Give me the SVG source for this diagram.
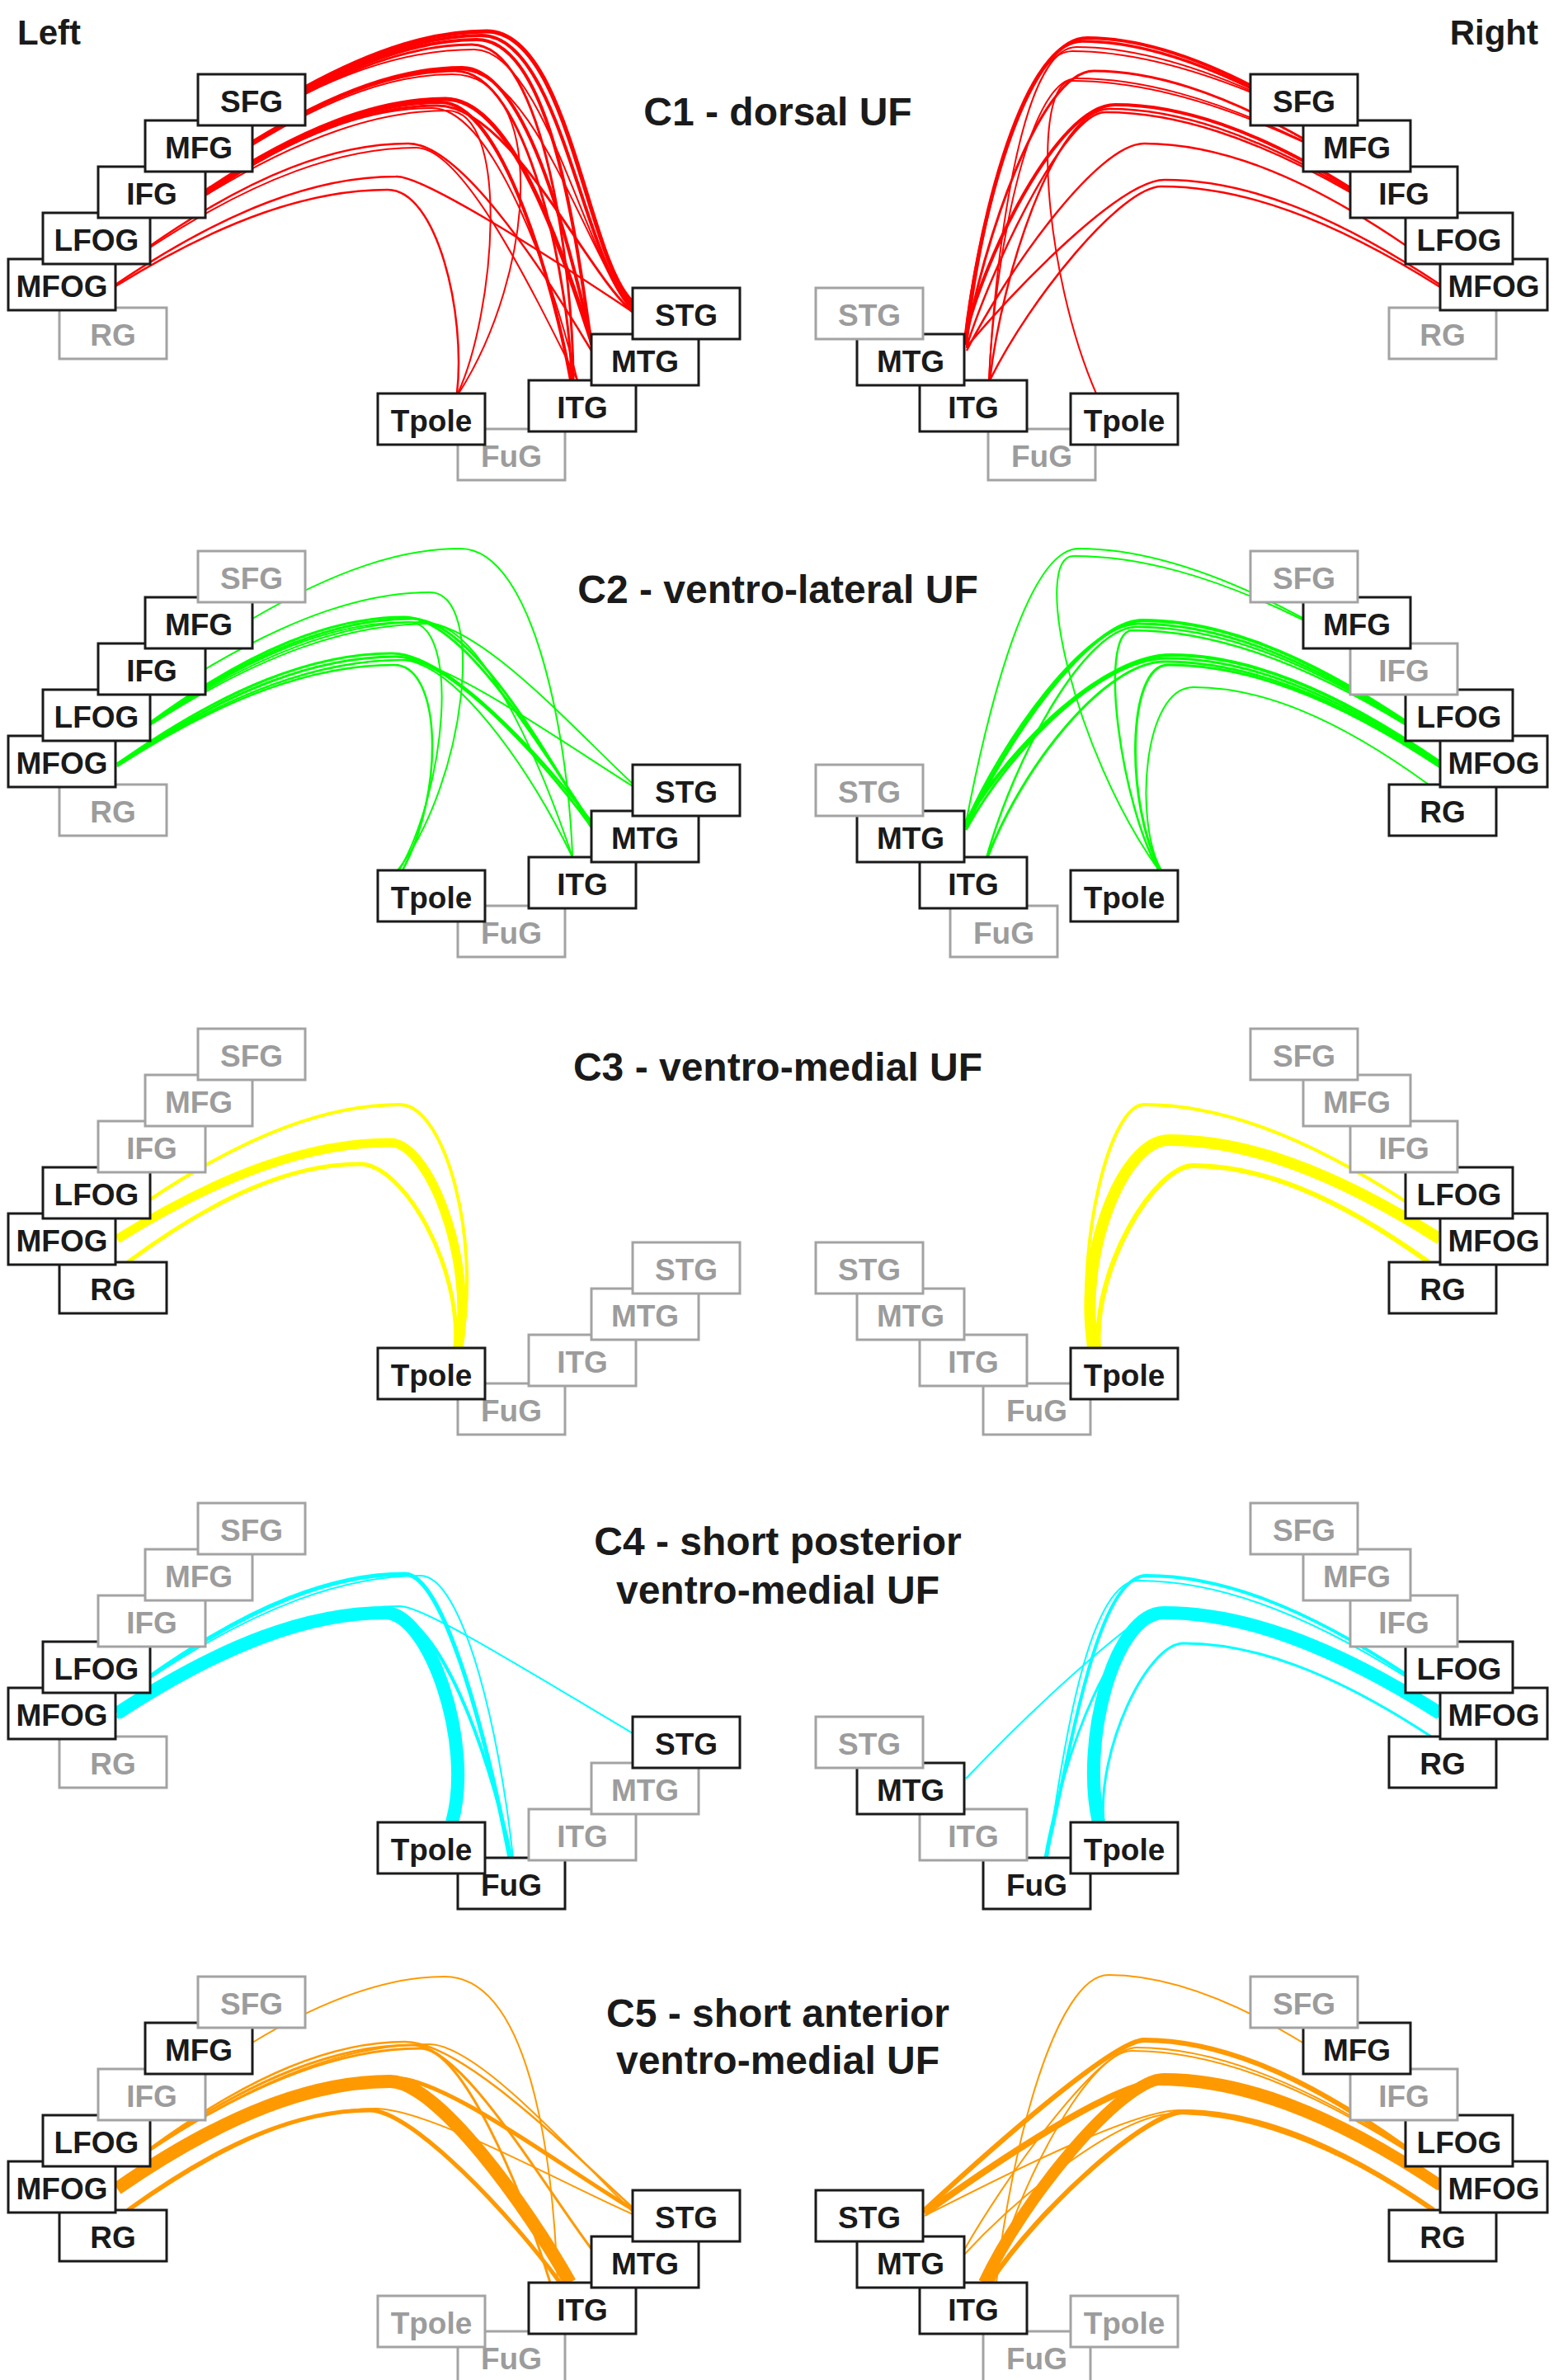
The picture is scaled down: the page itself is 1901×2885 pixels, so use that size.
<svg xmlns="http://www.w3.org/2000/svg" width="1901" height="2885" viewBox="0 0 1901 2885">
<style>
text{font-family:"Liberation Sans",Arial,sans-serif;font-weight:bold;text-anchor:middle}
.n text{font-size:37px}
.on rect{fill:#fff;stroke:#1a1a1a;stroke-width:3}
.on text{fill:#1a1a1a}
.off rect{fill:#fff;stroke:#a3a3a3;stroke-width:3}
.off text{fill:#9c9c9c}
.title{font-size:48px;fill:#1a1a1a}
.side{font-size:42px;fill:#1a1a1a}
#connectors path{fill:none}
.r path{stroke:#ff0000}
.g path{stroke:#00ff00}
.y path{stroke:#ffff00}
.c path{stroke:#00ffff}
.o path{stroke:#ff9900}
</style>
<rect width="1901" height="2885" fill="#fff"/>
<text class="side" x="21" y="54" style="text-anchor:start">Left</text>
<text class="side" x="1865" y="54" style="text-anchor:end">Right</text>
<text class="title" x="943" y="152">C1 - dorsal UF</text>
<text class="title" x="943" y="731">C2 - ventro-lateral UF</text>
<text class="title" x="943" y="1310">C3 - ventro-medial UF</text>
<text class="title" x="943" y="1885">C4 - short posterior</text>
<text class="title" x="943" y="1944">ventro-medial UF</text>
<text class="title" x="943" y="2457">C5 - short anterior</text>
<text class="title" x="943" y="2514">ventro-medial UF</text>

<g id="connectors">
<g class="r" id="conn-c1">
<path stroke-width="5" d="M370,106 C458,58 528,38 590,38 C690,38 712,318 767,366"/>
<path stroke-width="4" d="M370,109 C456,63 524,43 584,43 C680,43 708,325 767,371"/>
<path stroke-width="4" d="M370,111 C453,67 520,48 578,48 C670,48 700,300 717,418"/>
<path stroke-width="3" d="M370,113 C451,72 515,54 572,54 C660,54 695,330 695,461"/>
<path stroke-width="2" d="M370,114 C452,73 518,60 575,60 C660,60 715,330 767,376"/>
<path stroke-width="4" d="M306,172 C408,109 489,82 560,82 C640,82 690,300 717,412"/>
<path stroke-width="3" d="M306,174 C404,112 483,86 552,86 C640,86 690,340 693,461"/>
<path stroke-width="2" d="M306,175 C406,112 486,84 556,84 C650,84 715,320 767,374"/>
<path stroke-width="2" d="M306,176 C403,116 480,90 548,90 C665,90 650,330 556,477"/>
<path stroke-width="5" d="M249,232 C365,154 459,120 540,120 C620,120 680,300 717,414"/>
<path stroke-width="4" d="M249,234 C363,157 454,124 534,124 C610,124 672,350 692,461"/>
<path stroke-width="3" d="M249,236 C361,160 451,128 530,128 C620,128 710,330 767,378"/>
<path stroke-width="2" d="M249,237 C366,165 460,134 542,134 C620,134 600,380 555,477"/>
<path stroke-width="2" d="M249,236 C359,162 447,131 524,131 C590,131 660,300 700,461"/>
<path stroke-width="2.5" d="M182,298 C307,211 407,174 495,174 C560,174 660,330 717,425"/>
<path stroke-width="2" d="M182,300 C311,215 415,179 505,179 C560,179 640,340 700,461"/>
<path stroke-width="2.5" d="M140,345 C276,253 385,214 480,214 C510,212 650,300 767,378"/>
<path stroke-width="2.5" d="M140,347 C272,265 378,230 470,230 C530,230 565,380 554,477"/>
<path stroke-width="4" d="M1517,104 C1437,63 1374,46 1318,46 C1240,46 1185,280 1170,412"/>
<path stroke-width="3.5" d="M1517,107 C1435,67 1369,50 1312,50 C1235,50 1180,300 1170,418"/>
<path stroke-width="2" d="M1517,110 C1432,73 1364,57 1305,57 C1235,57 1205,330 1199,461"/>
<path stroke-width="2" d="M1517,112 C1430,77 1361,62 1300,62 C1230,62 1180,320 1172,422"/>
<path stroke-width="3" d="M1580,168 C1478,111 1397,86 1326,86 C1260,86 1190,300 1171,416"/>
<path stroke-width="2" d="M1580,171 C1470,118 1382,95 1305,95 C1245,95 1205,320 1199,461"/>
<path stroke-width="2" d="M1580,172 C1468,120 1378,98 1300,98 C1250,98 1265,330 1329,477"/>
<path stroke-width="4" d="M1637,228 C1523,157 1432,127 1352,127 C1280,127 1190,320 1170,410"/>
<path stroke-width="2.5" d="M1637,231 C1520,162 1427,132 1345,132 C1280,132 1215,330 1200,461"/>
<path stroke-width="2.5" d="M1637,233 C1518,165 1423,136 1340,136 C1290,136 1200,330 1172,420"/>
<path stroke-width="2.5" d="M1705,298 C1578,211 1476,174 1387,174 C1330,174 1220,330 1172,425"/>
<path stroke-width="2.5" d="M1746,345 C1612,256 1506,218 1412,218 C1360,218 1240,340 1172,420"/>
<path stroke-width="2.5" d="M1746,348 C1611,263 1503,226 1408,226 C1360,226 1250,360 1200,461"/>
</g>
<g class="g" id="conn-c2" transform="translate(0,578)">
<path stroke-width="2" d="M306,172 C407,113 487,87 558,87 C650,87 690,330 694,461"/>
<path stroke-width="2" d="M249,233 C358,168 445,140 521,140 C590,140 565,370 482,477"/>
<path stroke-width="3" d="M182,298 C305,208 404,170 490,170 C560,170 650,320 717,420"/>
<path stroke-width="3" d="M182,299 C309,209 411,172 500,172 C570,172 660,330 717,425"/>
<path stroke-width="2" d="M182,300 C313,213 418,176 510,176 C580,176 690,300 767,372"/>
<path stroke-width="2" d="M182,301 C317,214 425,178 520,178 C580,178 650,330 694,461"/>
<path stroke-width="2" d="M182,300 C307,213 407,176 495,176 C560,176 540,380 484,477"/>
<path stroke-width="3" d="M142,348 C275,254 382,214 475,214 C540,214 650,330 717,418"/>
<path stroke-width="3" d="M142,349 C277,257 385,218 480,218 C545,218 655,340 717,424"/>
<path stroke-width="2" d="M142,350 C279,260 389,222 485,222 C550,222 640,350 694,461"/>
<path stroke-width="2.5" d="M142,351 C276,264 384,228 478,228 C535,228 540,380 488,477"/>
<path stroke-width="2" d="M142,347 C281,260 392,222 490,222 C540,222 680,320 767,375"/>
<path stroke-width="2" d="M1581,172 C1472,113 1384,87 1308,87 C1240,87 1190,320 1170,425"/>
<path stroke-width="2" d="M1581,174 C1469,119 1380,96 1302,96 C1250,96 1300,330 1405,477"/>
<path stroke-width="4" d="M1705,297 C1577,211 1475,174 1385,174 C1320,174 1220,320 1171,425"/>
<path stroke-width="3" d="M1705,299 C1575,214 1471,178 1380,178 C1315,178 1215,320 1171,420"/>
<path stroke-width="2.5" d="M1705,300 C1574,217 1470,182 1378,182 C1315,182 1230,340 1196,462"/>
<path stroke-width="2.5" d="M1705,301 C1572,220 1465,186 1372,186 C1330,190 1360,400 1405,477"/>
<path stroke-width="4" d="M1746,346 C1616,256 1511,216 1420,216 C1340,216 1230,320 1171,418"/>
<path stroke-width="3" d="M1746,348 C1614,259 1508,220 1415,220 C1335,220 1225,330 1171,428"/>
<path stroke-width="3" d="M1746,350 C1612,261 1506,224 1412,224 C1340,224 1240,350 1197,462"/>
<path stroke-width="3" d="M1746,352 C1614,264 1508,228 1416,228 C1365,228 1365,400 1407,477"/>
<path stroke-width="2" d="M1732,373 C1618,290 1527,255 1447,255 C1385,255 1375,420 1408,477"/>
</g>
<g class="y" id="conn-c3" transform="translate(0,1157)">
<path stroke-width="4" d="M182,297 C303,216 400,182 485,182 C540,182 585,350 558,477"/>
<path stroke-width="11" d="M142,345 C274,263 380,228 473,228 C520,228 575,370 556,477"/>
<path stroke-width="5" d="M155,373 C267,290 357,254 436,254 C490,254 560,380 552,477"/>
<path stroke-width="4" d="M1705,300 C1578,217 1476,182 1387,182 C1345,182 1305,350 1320,477"/>
<path stroke-width="14" d="M1746,345 C1614,261 1509,225 1417,225 C1360,225 1305,370 1326,477"/>
<path stroke-width="6" d="M1732,373 C1618,291 1527,256 1447,256 C1400,256 1325,380 1332,477"/>
</g>
<g class="c" id="conn-c4" transform="translate(0,1732)">
<path stroke-width="5" d="M182,300 C306,213 404,176 491,176 C535,176 585,350 618,520"/>
<path stroke-width="2" d="M182,302 C313,215 418,178 510,178 C560,178 605,360 622,520"/>
<path stroke-width="16" d="M142,345 C272,260 376,223 467,223 C520,223 575,380 548,477"/>
<path stroke-width="4" d="M142,350 C275,263 382,226 475,226 C530,226 590,380 620,520"/>
<path stroke-width="2" d="M142,347 C279,255 389,215 485,215 C515,215 650,300 767,369"/>
<path stroke-width="4" d="M1705,298 C1579,214 1478,178 1390,178 C1330,178 1300,380 1268,520"/>
<path stroke-width="2" d="M1705,301 C1575,219 1471,184 1380,184 C1320,184 1290,380 1270,520"/>
<path stroke-width="16" d="M1746,345 C1612,260 1505,223 1411,223 C1350,223 1310,380 1332,477"/>
<path stroke-width="2" d="M1746,342 C1610,257 1500,220 1405,220 C1385,220 1270,320 1171,424"/>
<path stroke-width="3" d="M1746,350 C1614,265 1508,228 1415,228 C1350,228 1290,390 1267,520"/>
<path stroke-width="3" d="M1735,373 C1615,294 1519,260 1435,260 C1390,260 1330,390 1338,477"/>
</g>
<g class="o" id="conn-c5" transform="translate(0,2306)">
<path stroke-width="2" d="M306,170 C399,114 474,90 539,90 C640,90 670,300 676,461"/>
<path stroke-width="2.5" d="M182,298 C306,208 404,169 491,169 C560,169 690,300 767,370"/>
<path stroke-width="3" d="M182,299 C309,211 411,173 500,173 C560,173 650,330 717,420"/>
<path stroke-width="3" d="M182,300 C313,214 418,177 510,177 C560,177 630,340 667,461"/>
<path stroke-width="2" d="M182,301 C317,210 425,172 520,172 C580,172 700,310 767,375"/>
<path stroke-width="16" d="M142,347 C274,256 380,217 473,217 C530,217 640,370 691,461"/>
<path stroke-width="5" d="M142,343 C276,252 384,213 478,213 C540,213 680,320 767,372"/>
<path stroke-width="5" d="M155,373 C272,288 366,252 448,252 C500,252 620,380 679,461"/>
<path stroke-width="2" d="M158,373 C277,289 372,250 455,250 C520,250 680,340 767,378"/>
<path stroke-width="2" d="M1581,171 C1486,113 1410,88 1344,88 C1280,88 1225,300 1208,461"/>
<path stroke-width="6" d="M1705,298 C1578,207 1476,167 1387,167 C1350,167 1200,300 1121,373"/>
<path stroke-width="2" d="M1705,300 C1574,214 1468,176 1378,176 C1330,176 1215,340 1168,423"/>
<path stroke-width="2" d="M1705,301 C1572,217 1465,180 1372,180 C1320,180 1230,350 1205,461"/>
<path stroke-width="14" d="M1746,343 C1612,253 1505,214 1411,214 C1360,214 1240,360 1193,461"/>
<path stroke-width="8" d="M1746,346 C1610,256 1500,218 1405,218 C1350,218 1200,320 1121,377"/>
<path stroke-width="6" d="M1738,373 C1617,290 1520,254 1435,254 C1390,254 1260,370 1200,461"/>
<path stroke-width="2" d="M1738,373 C1615,289 1516,252 1430,252 C1370,252 1200,340 1121,380"/>
<path stroke-width="2" d="M1738,373 C1613,291 1512,256 1425,256 C1360,256 1240,350 1168,428"/>
</g>
</g>

<g id="nodes-c1" class="n">
<g id="c1-L-RG" class="off"><rect x="72" y="373" width="130" height="62"/><text x="137" y="419">RG</text></g>
<g id="c1-L-MFOG" class="on"><rect x="10" y="314" width="130" height="62"/><text x="75" y="360">MFOG</text></g>
<g id="c1-L-LFOG" class="on"><rect x="52" y="258" width="130" height="62"/><text x="117" y="304">LFOG</text></g>
<g id="c1-L-IFG" class="on"><rect x="119" y="202" width="130" height="62"/><text x="184" y="248">IFG</text></g>
<g id="c1-L-MFG" class="on"><rect x="176" y="146" width="130" height="62"/><text x="241" y="192">MFG</text></g>
<g id="c1-L-SFG" class="on"><rect x="240" y="90" width="130" height="62"/><text x="305" y="136">SFG</text></g>
<g id="c1-L-FuG" class="off"><rect x="555" y="520" width="130" height="62"/><text x="620" y="566">FuG</text></g>
<g id="c1-L-ITG" class="on"><rect x="641" y="461" width="130" height="62"/><text x="706" y="507">ITG</text></g>
<g id="c1-L-MTG" class="on"><rect x="717" y="405" width="130" height="62"/><text x="782" y="451">MTG</text></g>
<g id="c1-L-STG" class="on"><rect x="767" y="349" width="130" height="62"/><text x="832" y="395">STG</text></g>
<g id="c1-L-Tpole" class="on"><rect x="458" y="477" width="130" height="62"/><text x="523" y="523">Tpole</text></g>
<g id="c1-R-RG" class="off"><rect x="1684" y="373" width="130" height="62"/><text x="1749" y="419">RG</text></g>
<g id="c1-R-MFOG" class="on"><rect x="1746" y="314" width="130" height="62"/><text x="1811" y="360">MFOG</text></g>
<g id="c1-R-LFOG" class="on"><rect x="1704" y="258" width="130" height="62"/><text x="1769" y="304">LFOG</text></g>
<g id="c1-R-IFG" class="on"><rect x="1637" y="202" width="130" height="62"/><text x="1702" y="248">IFG</text></g>
<g id="c1-R-MFG" class="on"><rect x="1580" y="146" width="130" height="62"/><text x="1645" y="192">MFG</text></g>
<g id="c1-R-SFG" class="on"><rect x="1516" y="90" width="130" height="62"/><text x="1581" y="136">SFG</text></g>
<g id="c1-R-FuG" class="off"><rect x="1198" y="520" width="130" height="62"/><text x="1263" y="566">FuG</text></g>
<g id="c1-R-ITG" class="on"><rect x="1115" y="461" width="130" height="62"/><text x="1180" y="507">ITG</text></g>
<g id="c1-R-MTG" class="on"><rect x="1039" y="405" width="130" height="62"/><text x="1104" y="451">MTG</text></g>
<g id="c1-R-STG" class="off"><rect x="989" y="349" width="130" height="62"/><text x="1054" y="395">STG</text></g>
<g id="c1-R-Tpole" class="on"><rect x="1298" y="477" width="130" height="62"/><text x="1363" y="523">Tpole</text></g>
</g>

<g id="nodes-c2" class="n" transform="translate(0,578)">
<g id="c2-L-RG" class="off"><rect x="72" y="373" width="130" height="62"/><text x="137" y="419">RG</text></g>
<g id="c2-L-MFOG" class="on"><rect x="10" y="314" width="130" height="62"/><text x="75" y="360">MFOG</text></g>
<g id="c2-L-LFOG" class="on"><rect x="52" y="258" width="130" height="62"/><text x="117" y="304">LFOG</text></g>
<g id="c2-L-IFG" class="on"><rect x="119" y="202" width="130" height="62"/><text x="184" y="248">IFG</text></g>
<g id="c2-L-MFG" class="on"><rect x="176" y="146" width="130" height="62"/><text x="241" y="192">MFG</text></g>
<g id="c2-L-SFG" class="off"><rect x="240" y="90" width="130" height="62"/><text x="305" y="136">SFG</text></g>
<g id="c2-L-FuG" class="off"><rect x="555" y="520" width="130" height="62"/><text x="620" y="566">FuG</text></g>
<g id="c2-L-ITG" class="on"><rect x="641" y="461" width="130" height="62"/><text x="706" y="507">ITG</text></g>
<g id="c2-L-MTG" class="on"><rect x="717" y="405" width="130" height="62"/><text x="782" y="451">MTG</text></g>
<g id="c2-L-STG" class="on"><rect x="767" y="349" width="130" height="62"/><text x="832" y="395">STG</text></g>
<g id="c2-L-Tpole" class="on"><rect x="458" y="477" width="130" height="62"/><text x="523" y="523">Tpole</text></g>
<g id="c2-R-RG" class="on"><rect x="1684" y="373" width="130" height="62"/><text x="1749" y="419">RG</text></g>
<g id="c2-R-MFOG" class="on"><rect x="1746" y="314" width="130" height="62"/><text x="1811" y="360">MFOG</text></g>
<g id="c2-R-LFOG" class="on"><rect x="1704" y="258" width="130" height="62"/><text x="1769" y="304">LFOG</text></g>
<g id="c2-R-IFG" class="off"><rect x="1637" y="202" width="130" height="62"/><text x="1702" y="248">IFG</text></g>
<g id="c2-R-MFG" class="on"><rect x="1580" y="146" width="130" height="62"/><text x="1645" y="192">MFG</text></g>
<g id="c2-R-SFG" class="off"><rect x="1516" y="90" width="130" height="62"/><text x="1581" y="136">SFG</text></g>
<g id="c2-R-FuG" class="off"><rect x="1152" y="520" width="130" height="62"/><text x="1217" y="566">FuG</text></g>
<g id="c2-R-ITG" class="on"><rect x="1115" y="461" width="130" height="62"/><text x="1180" y="507">ITG</text></g>
<g id="c2-R-MTG" class="on"><rect x="1039" y="405" width="130" height="62"/><text x="1104" y="451">MTG</text></g>
<g id="c2-R-STG" class="off"><rect x="989" y="349" width="130" height="62"/><text x="1054" y="395">STG</text></g>
<g id="c2-R-Tpole" class="on"><rect x="1298" y="477" width="130" height="62"/><text x="1363" y="523">Tpole</text></g>
</g>

<g id="nodes-c3" class="n" transform="translate(0,1157)">
<g id="c3-L-RG" class="on"><rect x="72" y="373" width="130" height="62"/><text x="137" y="419">RG</text></g>
<g id="c3-L-MFOG" class="on"><rect x="10" y="314" width="130" height="62"/><text x="75" y="360">MFOG</text></g>
<g id="c3-L-LFOG" class="on"><rect x="52" y="258" width="130" height="62"/><text x="117" y="304">LFOG</text></g>
<g id="c3-L-IFG" class="off"><rect x="119" y="202" width="130" height="62"/><text x="184" y="248">IFG</text></g>
<g id="c3-L-MFG" class="off"><rect x="176" y="146" width="130" height="62"/><text x="241" y="192">MFG</text></g>
<g id="c3-L-SFG" class="off"><rect x="240" y="90" width="130" height="62"/><text x="305" y="136">SFG</text></g>
<g id="c3-L-FuG" class="off"><rect x="555" y="520" width="130" height="62"/><text x="620" y="566">FuG</text></g>
<g id="c3-L-ITG" class="off"><rect x="641" y="461" width="130" height="62"/><text x="706" y="507">ITG</text></g>
<g id="c3-L-MTG" class="off"><rect x="717" y="405" width="130" height="62"/><text x="782" y="451">MTG</text></g>
<g id="c3-L-STG" class="off"><rect x="767" y="349" width="130" height="62"/><text x="832" y="395">STG</text></g>
<g id="c3-L-Tpole" class="on"><rect x="458" y="477" width="130" height="62"/><text x="523" y="523">Tpole</text></g>
<g id="c3-R-RG" class="on"><rect x="1684" y="373" width="130" height="62"/><text x="1749" y="419">RG</text></g>
<g id="c3-R-MFOG" class="on"><rect x="1746" y="314" width="130" height="62"/><text x="1811" y="360">MFOG</text></g>
<g id="c3-R-LFOG" class="on"><rect x="1704" y="258" width="130" height="62"/><text x="1769" y="304">LFOG</text></g>
<g id="c3-R-IFG" class="off"><rect x="1637" y="202" width="130" height="62"/><text x="1702" y="248">IFG</text></g>
<g id="c3-R-MFG" class="off"><rect x="1580" y="146" width="130" height="62"/><text x="1645" y="192">MFG</text></g>
<g id="c3-R-SFG" class="off"><rect x="1516" y="90" width="130" height="62"/><text x="1581" y="136">SFG</text></g>
<g id="c3-R-FuG" class="off"><rect x="1192" y="520" width="130" height="62"/><text x="1257" y="566">FuG</text></g>
<g id="c3-R-ITG" class="off"><rect x="1115" y="461" width="130" height="62"/><text x="1180" y="507">ITG</text></g>
<g id="c3-R-MTG" class="off"><rect x="1039" y="405" width="130" height="62"/><text x="1104" y="451">MTG</text></g>
<g id="c3-R-STG" class="off"><rect x="989" y="349" width="130" height="62"/><text x="1054" y="395">STG</text></g>
<g id="c3-R-Tpole" class="on"><rect x="1298" y="477" width="130" height="62"/><text x="1363" y="523">Tpole</text></g>
</g>

<g id="nodes-c4" class="n" transform="translate(0,1732)">
<g id="c4-L-RG" class="off"><rect x="72" y="373" width="130" height="62"/><text x="137" y="419">RG</text></g>
<g id="c4-L-MFOG" class="on"><rect x="10" y="314" width="130" height="62"/><text x="75" y="360">MFOG</text></g>
<g id="c4-L-LFOG" class="on"><rect x="52" y="258" width="130" height="62"/><text x="117" y="304">LFOG</text></g>
<g id="c4-L-IFG" class="off"><rect x="119" y="202" width="130" height="62"/><text x="184" y="248">IFG</text></g>
<g id="c4-L-MFG" class="off"><rect x="176" y="146" width="130" height="62"/><text x="241" y="192">MFG</text></g>
<g id="c4-L-SFG" class="off"><rect x="240" y="90" width="130" height="62"/><text x="305" y="136">SFG</text></g>
<g id="c4-L-FuG" class="on"><rect x="555" y="520" width="130" height="62"/><text x="620" y="566">FuG</text></g>
<g id="c4-L-ITG" class="off"><rect x="641" y="461" width="130" height="62"/><text x="706" y="507">ITG</text></g>
<g id="c4-L-MTG" class="off"><rect x="717" y="405" width="130" height="62"/><text x="782" y="451">MTG</text></g>
<g id="c4-L-STG" class="on"><rect x="767" y="349" width="130" height="62"/><text x="832" y="395">STG</text></g>
<g id="c4-L-Tpole" class="on"><rect x="458" y="477" width="130" height="62"/><text x="523" y="523">Tpole</text></g>
<g id="c4-R-RG" class="on"><rect x="1684" y="373" width="130" height="62"/><text x="1749" y="419">RG</text></g>
<g id="c4-R-MFOG" class="on"><rect x="1746" y="314" width="130" height="62"/><text x="1811" y="360">MFOG</text></g>
<g id="c4-R-LFOG" class="on"><rect x="1704" y="258" width="130" height="62"/><text x="1769" y="304">LFOG</text></g>
<g id="c4-R-IFG" class="off"><rect x="1637" y="202" width="130" height="62"/><text x="1702" y="248">IFG</text></g>
<g id="c4-R-MFG" class="off"><rect x="1580" y="146" width="130" height="62"/><text x="1645" y="192">MFG</text></g>
<g id="c4-R-SFG" class="off"><rect x="1516" y="90" width="130" height="62"/><text x="1581" y="136">SFG</text></g>
<g id="c4-R-FuG" class="on"><rect x="1192" y="520" width="130" height="62"/><text x="1257" y="566">FuG</text></g>
<g id="c4-R-ITG" class="off"><rect x="1115" y="461" width="130" height="62"/><text x="1180" y="507">ITG</text></g>
<g id="c4-R-MTG" class="on"><rect x="1039" y="405" width="130" height="62"/><text x="1104" y="451">MTG</text></g>
<g id="c4-R-STG" class="off"><rect x="989" y="349" width="130" height="62"/><text x="1054" y="395">STG</text></g>
<g id="c4-R-Tpole" class="on"><rect x="1298" y="477" width="130" height="62"/><text x="1363" y="523">Tpole</text></g>
</g>

<g id="nodes-c5" class="n" transform="translate(0,2306)">
<g id="c5-L-RG" class="on"><rect x="72" y="373" width="130" height="62"/><text x="137" y="419">RG</text></g>
<g id="c5-L-MFOG" class="on"><rect x="10" y="314" width="130" height="62"/><text x="75" y="360">MFOG</text></g>
<g id="c5-L-LFOG" class="on"><rect x="52" y="258" width="130" height="62"/><text x="117" y="304">LFOG</text></g>
<g id="c5-L-IFG" class="off"><rect x="119" y="202" width="130" height="62"/><text x="184" y="248">IFG</text></g>
<g id="c5-L-MFG" class="on"><rect x="176" y="146" width="130" height="62"/><text x="241" y="192">MFG</text></g>
<g id="c5-L-SFG" class="off"><rect x="240" y="90" width="130" height="62"/><text x="305" y="136">SFG</text></g>
<g id="c5-L-FuG" class="off"><rect x="555" y="520" width="130" height="62"/><text x="620" y="566">FuG</text></g>
<g id="c5-L-ITG" class="on"><rect x="641" y="461" width="130" height="62"/><text x="706" y="507">ITG</text></g>
<g id="c5-L-MTG" class="on"><rect x="717" y="405" width="130" height="62"/><text x="782" y="451">MTG</text></g>
<g id="c5-L-STG" class="on"><rect x="767" y="349" width="130" height="62"/><text x="832" y="395">STG</text></g>
<g id="c5-L-Tpole" class="off"><rect x="458" y="477" width="130" height="62"/><text x="523" y="523">Tpole</text></g>
<g id="c5-R-RG" class="on"><rect x="1684" y="373" width="130" height="62"/><text x="1749" y="419">RG</text></g>
<g id="c5-R-MFOG" class="on"><rect x="1746" y="314" width="130" height="62"/><text x="1811" y="360">MFOG</text></g>
<g id="c5-R-LFOG" class="on"><rect x="1704" y="258" width="130" height="62"/><text x="1769" y="304">LFOG</text></g>
<g id="c5-R-IFG" class="off"><rect x="1637" y="202" width="130" height="62"/><text x="1702" y="248">IFG</text></g>
<g id="c5-R-MFG" class="on"><rect x="1580" y="146" width="130" height="62"/><text x="1645" y="192">MFG</text></g>
<g id="c5-R-SFG" class="off"><rect x="1516" y="90" width="130" height="62"/><text x="1581" y="136">SFG</text></g>
<g id="c5-R-FuG" class="off"><rect x="1192" y="520" width="130" height="62"/><text x="1257" y="566">FuG</text></g>
<g id="c5-R-ITG" class="on"><rect x="1115" y="461" width="130" height="62"/><text x="1180" y="507">ITG</text></g>
<g id="c5-R-MTG" class="on"><rect x="1039" y="405" width="130" height="62"/><text x="1104" y="451">MTG</text></g>
<g id="c5-R-STG" class="on"><rect x="989" y="349" width="130" height="62"/><text x="1054" y="395">STG</text></g>
<g id="c5-R-Tpole" class="off"><rect x="1298" y="477" width="130" height="62"/><text x="1363" y="523">Tpole</text></g>
</g>
</svg>
